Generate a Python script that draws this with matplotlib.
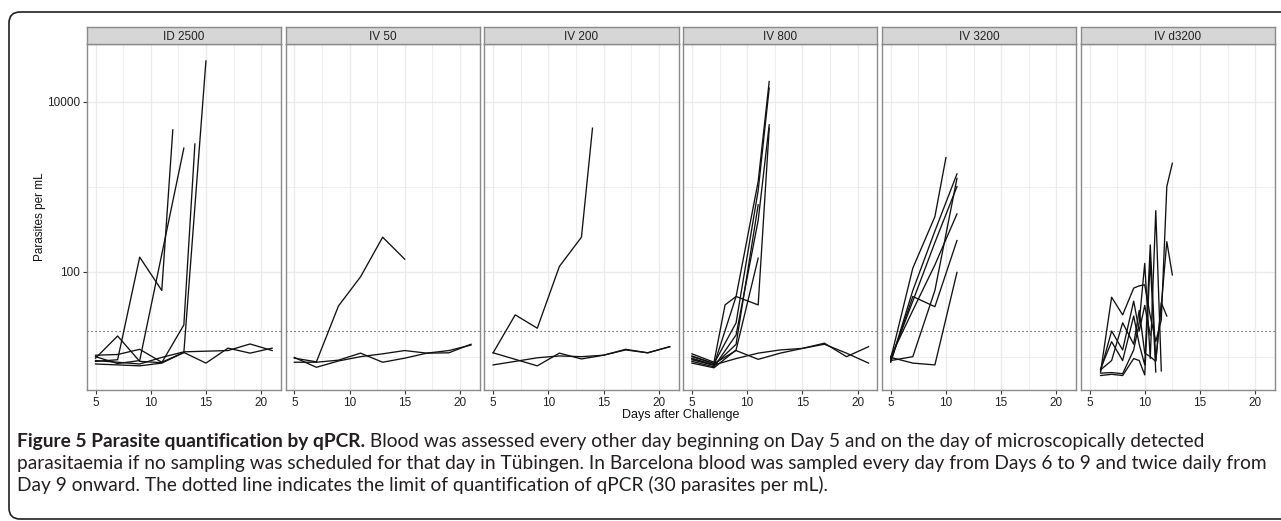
import matplotlib
matplotlib.use("Agg")
import matplotlib.pyplot as plt
from matplotlib.patches import FancyBboxPatch
from matplotlib.ticker import FixedLocator, NullFormatter, FixedFormatter
from matplotlib.transforms import IdentityTransform

# ---- data (days after challenge, parasites per mL) ----
panels = ["ID 2500", "IV 50", "IV 200", "IV 800", "IV 3200", "IV d3200"]

id2500_days = [[5, 7, 9, 11, 12], [5, 7, 9, 13], [5, 7, 9, 11, 13, 14],
               [5, 7, 9, 11, 13, 15], [5, 7, 9, 11, 13, 15, 17, 19, 21],
               [5, 7, 9, 11, 13, 17, 19, 21]]
id2500_par = [[8.8, 9.2, 148, 60, 4640], [10.0, 8.3, 9.0, 2830],
              [9.6, 17.5, 8.8, 8.5, 23.6, 3170], [10.4, 10.6, 12.2, 8.6, 11.2, 30000],
              [8.2, 8.0, 7.8, 8.4, 11.2, 8.4, 12.6, 11.0, 12.6],
              [9.0, 8.6, 8.2, 9.8, 11.4, 11.8, 14.1, 11.8]]

iv50_days = [[5, 7, 9, 11, 13, 15, 17, 19, 21], [5, 7, 9, 11, 13, 15, 17, 19, 21],
             [5, 7, 9, 11, 13, 15]]
iv50_par = [[9.8, 7.5, 8.9, 10.0, 10.8, 11.8, 11.0, 11.1, 14.0],
            [8.6, 8.6, 9.1, 11.0, 8.6, 9.6, 11.0, 11.8, 13.7],
            [9.6, 8.7, 39.5, 87, 254, 140]]

iv200_days = [[5, 7, 9, 11, 13, 14], [5, 7, 9, 11, 13, 15, 17, 19, 21],
              [5, 7, 9, 11, 13, 15, 17, 19, 21]]
iv200_par = [[11.1, 31, 21.6, 115, 254, 4860],
             [11.1, 9.3, 7.8, 11.0, 9.4, 10.4, 12.0, 11.1, 13.1],
             [8.0, 8.8, 9.7, 10.2, 10.0, 10.4, 12.2, 11.1, 13.1]]

iv800_days = [[5, 7, 9, 11, 12], [5, 7, 9, 11, 12], [5, 7, 9, 11, 12],
              [5, 7, 8, 9, 11, 12], [5, 7, 9, 11], [5, 7, 9, 11],
              [5, 7, 9, 11, 13, 15, 17, 19, 21], [5, 7, 9, 11, 13, 15, 17, 19, 21]]
iv800_par = [[9.5, 8.0, 51, 1150, 17200], [10.2, 8.3, 25, 900, 14400],
             [8.8, 7.6, 18, 400, 5320], [10.8, 8.6, 40.6, 51, 40.6, 4860],
             [9.2, 7.9, 14, 610], [8.4, 7.4, 12, 144],
             [9.5, 8.0, 9.5, 11.0, 12.0, 12.5, 14.4, 10.0, 13.1],
             [10.0, 8.3, 11.8, 9.3, 11.0, 12.5, 14.0, 11.0, 8.4]]

iv3200_days = [[5, 7, 9, 10], [5, 7, 9, 11], [5, 7, 9, 11], [5, 7, 9, 11],
               [5, 7, 9, 11], [5, 7, 9, 11], [5, 7, 9, 11]]
iv3200_par = [[9.5, 110, 443, 2190], [8.6, 60, 300, 1410], [9.3, 45, 220, 1000],
              [10.0, 35, 120, 477], [8.8, 51, 38.7, 232], [9.8, 8.4, 8.0, 98],
              [9.0, 10.0, 60, 1250]]

d3200_days = [[6, 7, 8, 9, 9.5, 10, 10.5, 11, 11.5, 12, 12.5],
              [6, 7, 8, 9, 9.5, 10, 10.5, 11, 11.5],
              [6, 7, 8, 9, 9.5, 10, 10.5, 11, 11.5, 12, 12.5],
              [6, 7, 8, 9, 9.5, 10, 10.5, 11],
              [6, 7, 8, 9, 9.5, 10, 10.5],
              [6, 7, 8, 9, 9.5, 10, 10.5, 11, 11.5, 12]]
d3200_par = [[6.6, 50, 31, 64, 68, 70, 30, 15, 27, 1000, 1880],
             [6.4, 6.5, 6.3, 12, 25, 125, 9.5, 522, 6.8],
             [7.2, 15, 9.0, 30, 14, 8.0, 206, 9.0, 40, 225, 91.5],
             [6.0, 6.2, 6.0, 9.5, 9.0, 6.1, 137, 6.6],
             [6.8, 20, 12, 45, 20, 40, 18],
             [7.0, 9.0, 25, 14, 35, 11, 10, 8.8, 43, 30]]

all_days = [id2500_days, iv50_days, iv200_days, iv800_days, iv3200_days, d3200_days]
all_par = [id2500_par, iv50_par, iv200_par, iv800_par, iv3200_par, d3200_par]

loq = 20  # dotted limit line as drawn
x_ticks = [5, 10, 15, 20]
y_ticks = [100, 10000]
y_labels = ["100", "10000"]

caption = [
    [("Figure 5 Parasite quantification by qPCR.", "bold"),
     (" Blood was assessed every other day beginning on Day 5 and on the day of microscopically detected", "normal")],
    [("parasitaemia if no sampling was scheduled for that day in Tübingen. In Barcelona blood was sampled every day from Days 6 to 9 and twice daily from", "normal")],
    [("Day 9 onward. The dotted line indicates the limit of quantification of qPCR (30 parasites per mL).", "normal")],
]

# ---- layout (pixels) ----
W, H = 1281, 521
fig = plt.figure(figsize=(W / 100, H / 100), dpi=100)
plt.rcParams['font.family'] = ['Liberation Sans', 'DejaVu Sans']

left0, step, pw = 86.7, 198.8, 194.3
ptop, pbot, stop = 44.3, 390.0, 27.3
border = '#8a8a8a'
grid_c = '#ebebeb'

for i, name in enumerate(panels):
    l = left0 + i * step
    ax = fig.add_axes([l / W, 1 - pbot / H, pw / W, (pbot - ptop) / H])
    ax.set_yscale('log')
    ax.set_xlim(4.2, 21.8)
    ax.set_ylim(10 ** 0.608, 10 ** 4.673)
    ax.xaxis.set_major_locator(FixedLocator(x_ticks))
    ax.xaxis.set_minor_locator(FixedLocator([7.5, 12.5, 17.5]))
    ax.yaxis.set_major_locator(FixedLocator(y_ticks))
    ax.yaxis.set_minor_locator(FixedLocator([10, 1000]))
    ax.yaxis.set_minor_formatter(NullFormatter())
    ax.xaxis.set_minor_formatter(NullFormatter())
    ax.grid(which='major', color=grid_c, lw=1.0)
    ax.grid(which='minor', color=grid_c, lw=0.6)
    ax.set_axisbelow(True)
    ax.tick_params(which='minor', length=0)
    ax.tick_params(which='major', length=3, width=0.8, color='#333333',
                   labelsize=8.5, labelcolor='#222222', pad=2)
    if i == 0:
        ax.yaxis.set_major_formatter(FixedFormatter(y_labels))
    else:
        ax.tick_params(axis='y', which='major', length=0, labelleft=False)
    for s in ax.spines.values():
        s.set_color(border)
        s.set_linewidth(1.0)

    ax.axhline(loq, color='#333333', lw=0.8, ls=(0, (1, 2.6)), zorder=2)
    for d, v in zip(all_days[i], all_par[i]):
        ax.plot(d, v, color='#111111', lw=0.95, zorder=3)

    sax = fig.add_axes([l / W, 1 - ptop / H, pw / W, (ptop - stop) / H])
    sax.set_facecolor('#d6d6d6')
    sax.set_xticks([])
    sax.set_yticks([])
    for s in sax.spines.values():
        s.set_color(border)
        s.set_linewidth(1.0)
    sax.text(0.5, 0.45, name, ha='center', va='center', fontsize=8.5,
             color='#222222', transform=sax.transAxes)

fig.text(40 / W, 1 - 217 / H, "Parasites per mL", rotation=90, ha='center',
         va='center', fontsize=8.5, color='#111111')
fig.text((left0 + 5 * step + pw + left0) / 2 / W, 1 - 415 / H, "Days after Challenge",
         ha='center', va='center', fontsize=9, color='#111111')

# ---- caption ----
renderer = fig.canvas.get_renderer()
cap_font = ['Lato', 'DejaVu Sans']
probe = fig.text(0, 0, caption[1][0][0], fontsize=12, family=cap_font)
fs = 12 * 1248 / probe.get_window_extent(renderer).width
probe.remove()

for k, line in enumerate(caption):
    x = 17
    y = 447 + k * 22
    for txt, wt in line:
        t = fig.text(x / W, 1 - y / H, txt, fontsize=fs, fontweight=wt,
                     family=cap_font, va='baseline', ha='left', color='#231f20')
        x += t.get_window_extent(renderer).width

box = FancyBboxPatch((9, H - 519), 1320, 507, boxstyle="round,pad=0,rounding_size=11",
                     transform=IdentityTransform(), fill=False, ec='#231f20', lw=1.2)
fig.patches.append(box)

fig.savefig('out.png', dpi=100)
